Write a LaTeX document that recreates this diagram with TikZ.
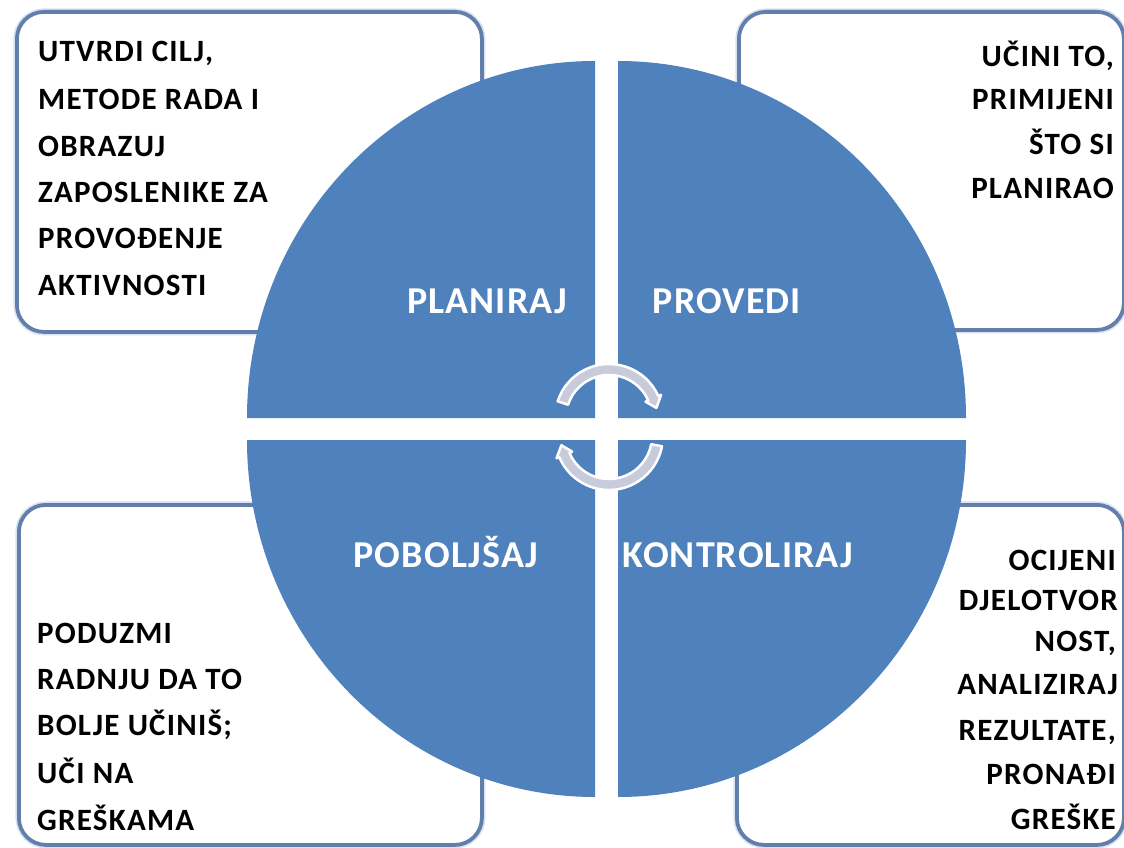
\documentclass[tikz,border=0pt]{standalone}
\usepackage{fontspec}
\setmainfont{Carlito}
\newfontfamily\boxfont[LetterSpace=4]{Carlito}
\newfontfamily\quadfont[LetterSpace=3]{Carlito}
\definecolor{quadblue}{RGB}{79,129,189}
\definecolor{boxline}{RGB}{98,126,170}
\definecolor{boxhalo}{RGB}{215,226,242}
\definecolor{arrowgray}{RGB}{200,204,218}
\tikzset{
  infobox/.style={draw=boxline, line width=3.8pt, rounded corners=27pt, fill=white,
    preaction={draw=boxhalo, line width=7pt}, inner sep=0, anchor=north west},
  boxtext/.style={font=\boxfont\bfseries\fontsize{31}{37}\selectfont, inner sep=0, text=black},
  quadrant/.style={fill=quadblue},
  quadlabel/.style={font=\quadfont\bfseries\fontsize{38}{40}\selectfont, inner sep=0, text=white, anchor=base},
  cyclearrow/.style={fill=arrowgray, draw=white, line width=2.5pt, line join=round}
}
\begin{document}
\begin{tikzpicture}[x=1pt,y=-1pt]
\useasboundingbox (0,0) rectangle (1124,848);
\fill[white] (0,0) rectangle (1124,848);

% boxes
\node[infobox, minimum width=465pt, minimum height=320pt] (boxTL) at (15,10) {};
\node[infobox, minimum width=385pt, minimum height=318pt] (boxTR) at (737,10) {};
\node[infobox, minimum width=463pt, minimum height=340pt] (boxBL) at (17,503) {};
\node[infobox, minimum width=387pt, minimum height=340pt] (boxBR) at (735,503) {};

% top-left text
\node[boxtext, anchor=base west] (tl1) at (38,62) {UTVRDI CILJ,};
\node[boxtext, anchor=base west] (tl2) at (38,110) {METODE RADA I};
\node[boxtext, anchor=base west] (tl3) at (38,157) {OBRAZUJ};
\node[boxtext, anchor=base west] (tl4) at (38,202) {ZAPOSLENIKE ZA};
\node[boxtext, anchor=base west] (tl5) at (38,248) {PROVOĐENJE};
\node[boxtext, anchor=base west] (tl6) at (38,295) {AKTIVNOSTI};

% top-right text
\node[boxtext, anchor=base east] (tr1) at (1114,67) {UČINI TO,};
\node[boxtext, anchor=base east] (tr2) at (1114,110) {PRIMIJENI};
\node[boxtext, anchor=base east] (tr3) at (1114,154) {ŠTO SI};
\node[boxtext, anchor=base east] (tr4) at (1114,198) {PLANIRAO};

% bottom-left text
\node[boxtext, anchor=base west] (bl1) at (37,643) {PODUZMI};
\node[boxtext, anchor=base west] (bl2) at (37,689) {RADNJU DA TO};
\node[boxtext, anchor=base west] (bl3) at (37,735) {BOLJE UČINIŠ;};
\node[boxtext, anchor=base west] (bl4) at (37,783) {UČI NA};
\node[boxtext, anchor=base west] (bl5) at (37,830) {GREŠKAMA};

% bottom-right text
\node[boxtext, anchor=base east] (br1) at (1116,570) {OCIJENI};
\node[boxtext, anchor=base east] (br2) at (1118,610) {DJELOTVOR};
\node[boxtext, anchor=base east] (br3) at (1116,651) {NOST,};
\node[boxtext, anchor=base east] (br4) at (1118,694) {ANALIZIRAJ};
\node[boxtext, anchor=base east] (br5) at (1116,740) {REZULTATE,};
\node[boxtext, anchor=base east] (br6) at (1116,784) {PRONAĐI};
\node[boxtext, anchor=base east] (br7) at (1116,829) {GREŠKE};

% quadrants
\fill[quadrant] (595,418) -- ++(-348,0) arc[start angle=180,end angle=270,x radius=348,y radius=357] -- cycle;
\fill[quadrant] (618,418) -- ++(0,-357) arc[start angle=270,end angle=360,x radius=348,y radius=357] -- cycle;
\fill[quadrant] (618,440) -- ++(348,0) arc[start angle=0,end angle=90,x radius=348,y radius=357] -- cycle;
\fill[quadrant] (595,440) -- ++(0,357) arc[start angle=90,end angle=180,x radius=348,y radius=357] -- cycle;

% quadrant labels
\node[quadlabel] (lPlan) at (487,313) {PLANIRAJ};
\node[quadlabel] (lProv) at (727,313) {PROVEDI};
\node[quadlabel] (lPob) at (446,567) {POBOLJŠAJ};
\node[quadlabel] (lKon) at (738,567) {KONTROLIRAJ};

% cycle arrows
\coordinate (c1) at (609,418);
\coordinate (c2) at (609,436);
\path[cyclearrow] ([shift={(c1)}]198:54) arc[start angle=198,end angle=336,radius=54]
  -- ([shift={(c1)}]336:57) -- ([shift={(c1)}]348:48.5) -- ([shift={(c1)}]336:40)
  -- ([shift={(c1)}]336:43) arc[start angle=336,end angle=198,radius=43] -- cycle;
\path[cyclearrow] ([shift={(c2)}]11:54) arc[start angle=11,end angle=157,radius=54]
  -- ([shift={(c2)}]157:57) -- ([shift={(c2)}]169:48.5) -- ([shift={(c2)}]157:40)
  -- ([shift={(c2)}]157:43) arc[start angle=157,end angle=11,radius=43] -- cycle;
\end{tikzpicture}
\end{document}
